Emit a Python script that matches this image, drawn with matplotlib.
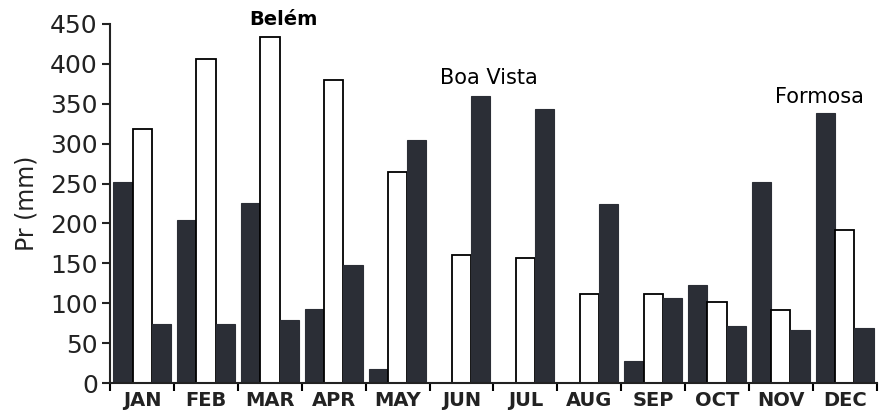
import matplotlib.pyplot as plt
import numpy as np

months = ["JAN", "FEB", "MAR", "APR", "MAY", "JUN", "JUL", "AUG", "SEP", "OCT", "NOV", "DEC"]
formosa = [252, 204, 226, 93, 17, 0, 0, 0, 28, 123, 252, 339]
belem = [318, 406, 434, 380, 264, 161, 157, 111, 111, 101, 91, 192]
boa_vista = [74, 74, 79, 148, 304, 360, 343, 224, 106, 72, 66, 69]

dark = "#2b2e36"
x = np.arange(len(months))
w = 0.3

fig = plt.figure(figsize=(8.82, 4.2), dpi=100)
ax = fig.add_axes([0.125, 0.088, 0.869, 0.855])

ax.bar(x + 0.2, formosa, w, color=dark, edgecolor=dark, linewidth=0.8)
ax.bar(x + 0.5, belem, w, color="white", edgecolor="black", linewidth=1.3)
ax.bar(x + 0.8, boa_vista, w, color=dark, edgecolor=dark, linewidth=0.8)

ax.set_xlim(0, 12)
ax.set_ylim(0, 450)
ax.set_yticks(np.arange(0, 451, 50))
ax.set_xticks(np.arange(0, 13))
ax.set_xticklabels([])
ax.set_xticks(x + 0.5, minor=True)
ax.set_xticklabels(months, minor=True, fontsize=14, fontweight="bold", color="#222222")
ax.tick_params(axis="x", which="minor", length=0, pad=6)
ax.tick_params(axis="x", which="major", length=6, width=1.5, direction="out")
ax.tick_params(axis="y", length=6, width=1.5, labelsize=18, colors="#222222", pad=3)

for s in ["top", "right"]:
    ax.spines[s].set_visible(False)
for s in ["left", "bottom"]:
    ax.spines[s].set_linewidth(1.5)
    ax.spines[s].set_color("#222222")

ax.set_ylabel("Pr (mm)", fontsize=17, color="#222222", labelpad=8)

ax.text(2.71, 455, "Belém", fontsize=14, fontweight="bold", ha="center", va="center", clip_on=False)
ax.text(5.93, 382, "Boa Vista", fontsize=15, ha="center", va="center")
ax.text(11.1, 358, "Formosa", fontsize=15, ha="center", va="center")

fig.savefig("out.png", dpi=100)
